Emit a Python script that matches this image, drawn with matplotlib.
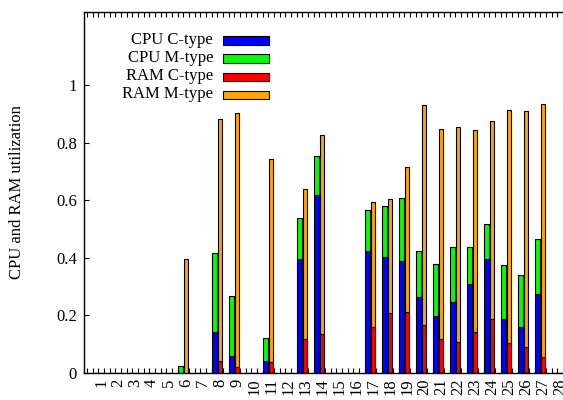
import matplotlib
matplotlib.use("Agg")
import matplotlib.pyplot as plt
from matplotlib.patches import Rectangle
import numpy as np

# %% data
servers = list(range(1, 29))
cpu_c = [0, 0, 0, 0, 0, 0, 0, 0.143, 0.059, 0, 0.042, 0, 0.394, 0.618,
         0, 0, 0.424, 0.404, 0.390, 0.262, 0.197, 0.247, 0.307, 0.395,
         0.188, 0.158, 0.273, 0]
cpu_m = [0, 0, 0, 0, 0, 0.024, 0, 0.274, 0.208, 0, 0.079, 0, 0.143, 0.137,
         0, 0, 0.142, 0.176, 0.219, 0.162, 0.180, 0.191, 0.130, 0.122,
         0.186, 0.183, 0.191, 0]
ram_c = [0, 0, 0, 0, 0, 0, 0, 0.040, 0.020, 0, 0.037, 0, 0.118, 0.134,
         0, 0, 0.158, 0.209, 0.210, 0.165, 0.118, 0.106, 0.143, 0.186,
         0.104, 0.091, 0.056, 0]
ram_m = [0, 0, 0, 0, 0, 0.394, 0, 0.842, 0.882, 0, 0.705, 0, 0.521, 0.692,
         0, 0, 0.437, 0.394, 0.504, 0.766, 0.730, 0.749, 0.700, 0.689,
         0.810, 0.818, 0.878, 0]
ytick_vals = [0, 0.2, 0.4, 0.6, 0.8, 1.0]
ytick_labels = ["0", "0.2", "0.4", "0.6", "0.8", "1"]
series_names = ["CPU C-type", "CPU M-type", "RAM C-type", "RAM M-type"]
series_colors = ["#0000ff", "#00ff00", "#ff0000", "#ffa500"]

# %% plot
plt.rcParams["font.family"] = ["Liberation Serif", "DejaVu Serif"]
plt.rcParams["font.size"] = 12

W, H = 563, 400
fig = plt.figure(figsize=(W / 100, H / 100), dpi=100)
left, bottom, top = 84, 372.7, 12.3
ax = fig.add_axes([left / W, 1 - bottom / H, 1 - left / W, (bottom - top) / H])

x = np.array(servers)
w = 0.27
edge = dict(edgecolor="black", linewidth=0.8)
ax.bar(x - 1/3, cpu_c, w, color=series_colors[0], **edge)
ax.bar(x - 1/3, cpu_m, w, bottom=cpu_c, color=series_colors[1], **edge)
ax.bar(x, ram_c, w, color=series_colors[2], **edge)
ax.bar(x, ram_m, w, bottom=ram_c, color=series_colors[3], **edge)

ax.set_xticks(x)
ax.set_xticklabels([str(s) for s in servers], rotation=90)
ax.set_xticks(np.arange(1/6, 28.2, 1/3), minor=True)
ax.tick_params(axis="x", which="major", length=0, pad=4)
ax.tick_params(axis="x", which="minor", direction="in", length=3.5,
               width=0.8, top=True, bottom=True)
ax.set_yticks(ytick_vals)
ax.set_yticklabels(ytick_labels)
ax.tick_params(axis="y", direction="in", length=3.5, width=0.8, pad=5,
               right=False)

# limits last, set_xticks would widen them otherwise
ax.set_xlim(0, (W - left) / 17.0)
ax.set_ylim(0, (bottom - top) / 287.5)

ax.spines["right"].set_visible(False)
for s in ("left", "top", "bottom"):
    ax.spines[s].set_linewidth(1.0)

ax.set_ylabel("CPU and RAM utilization", va="center")
ax.yaxis.set_label_coords(-0.14, 0.5)

# gnuplot-style key: text right-aligned, swatch on the right
for i, (name, col) in enumerate(zip(series_names, series_colors)):
    yc = 40.5 + i * 18
    fig.text(213 / W, 1 - yc / H, name, ha="right", va="center")
    fig.patches.append(Rectangle((222.5 / W, 1 - (yc + 4) / H), 46 / W, 8 / H,
                                 transform=fig.transFigure, facecolor=col,
                                 edgecolor="black", linewidth=0.8))

fig.savefig("out.png", dpi=100)
